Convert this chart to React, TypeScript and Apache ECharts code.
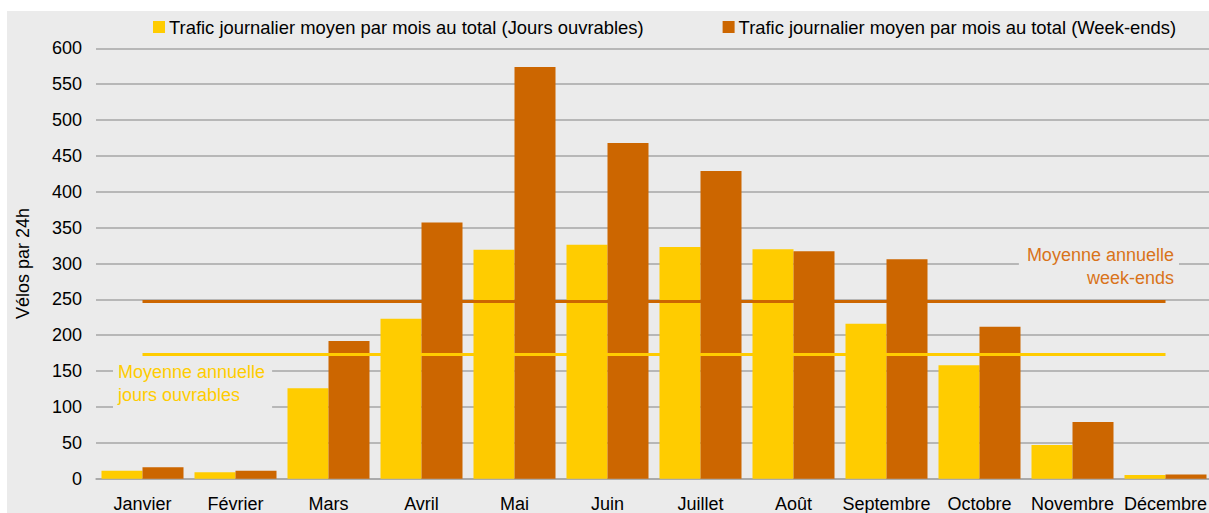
import React, { useEffect, useRef } from "react";
import * as echarts from "echarts";

const months = ["Janvier", "Février", "Mars", "Avril", "Mai", "Juin", "Juillet", "Août", "Septembre", "Octobre", "Novembre", "Décembre"];
const workdays = [11, 9, 126, 223, 319, 326, 323, 320, 216, 158, 47, 5];
const weekends = [16, 11, 192, 357, 574, 468, 429, 317, 306, 212, 79, 6];
const avgWorkdays = 174;
const avgWeekends = 248;
const seriesNames = [
  "Trafic journalier moyen par mois au total (Jours ouvrables)",
  "Trafic journalier moyen par mois au total (Week-ends)",
];
const yAxisName = "Vélos par 24h";
const noteWeekends = "Moyenne annuelle\nweek-ends";
const noteWorkdays = "Moyenne annuelle\njours ouvrables";

const FONT = "'Liberation Sans', Arial, sans-serif";
const YELLOW = "#FFCC00";
const ORANGE = "#CC6600";
const BG = "#EBEBEB";

export default function App() {
  const ref = useRef<HTMLDivElement>(null);
  useEffect(() => {
    if (!ref.current) return;
    const chart = echarts.init(ref.current, undefined, { renderer: "svg" });
    const avgLine = (value: number, color: string) => ({
      silent: true,
      symbol: "none",
      label: { show: false },
      lineStyle: { color, width: 3, type: "solid" },
      data: [[{ coord: [months[0], value] }, { coord: [months[months.length - 1], value] }]],
    });
    chart.setOption({
      animation: false,
      backgroundColor: "#ffffff",
      textStyle: { fontFamily: FONT },
      graphic: {
        elements: [
          {
            type: "rect",
            z: -10,
            silent: true,
            shape: { x: 7, y: 11, width: 1300, height: 600 },
            style: { fill: BG },
          },
          {
            type: "text",
            z: 50,
            x: 1179,
            y: 243,
            style: {
              text: noteWeekends,
              fill: "#D9731A",
              font: `18px ${FONT}`,
              align: "right",
              verticalAlign: "top",
              lineHeight: 23,
              backgroundColor: BG,
              padding: [0, 5, 0, 8],
            },
          },
          {
            type: "text",
            z: 50,
            x: 113,
            y: 360,
            style: {
              text: noteWorkdays,
              fill: YELLOW,
              font: `18px ${FONT}`,
              align: "left",
              verticalAlign: "top",
              lineHeight: 23,
              backgroundColor: BG,
              padding: [0, 7, 3, 5],
            },
          },
        ],
      },
      legend: {
        left: 153,
        top: 18,
        padding: 0,
        itemWidth: 12,
        itemHeight: 12,
        itemGap: 79,
        icon: "rect",
        textStyle: { fontSize: 18.4, color: "#000", fontFamily: FONT, padding: [0, 0, 0, -1] },
        data: seriesNames,
      },
      grid: { left: 96, right: 3, top: 48.3, bottom: 34.3, containLabel: false, outerBoundsMode: "none" },
      xAxis: {
        type: "category",
        data: months,
        axisTick: { show: false },
        axisLine: { lineStyle: { color: "#A6A6A6", width: 1.5 } },
        axisLabel: { fontSize: 18, color: "#000", margin: 16, interval: 0, fontFamily: FONT },
      },
      yAxis: {
        type: "value",
        min: 0,
        max: 600,
        interval: 50,
        name: yAxisName,
        nameLocation: "middle",
        nameGap: 64,
        nameTextStyle: { fontSize: 18, color: "#000", fontFamily: FONT },
        axisLine: { show: false },
        axisTick: { show: false },
        axisLabel: { fontSize: 18, color: "#000", margin: 14, fontFamily: FONT },
        splitLine: { lineStyle: { color: "#A6A6A6", width: 1.5 } },
      },
      series: [
        {
          name: seriesNames[0],
          type: "bar",
          data: workdays,
          barWidth: 41,
          barGap: "0%",
          itemStyle: { color: YELLOW },
        },
        {
          name: seriesNames[1],
          type: "bar",
          data: weekends,
          barWidth: 41,
          barGap: "0%",
          itemStyle: { color: ORANGE },
        },
        {
          name: "avgWorkdays",
          type: "line",
          data: [],
          z: 10,
          markLine: avgLine(avgWorkdays, YELLOW),
        },
        {
          name: "avgWeekends",
          type: "line",
          data: [],
          z: 10,
          markLine: avgLine(avgWeekends, ORANGE),
        },
      ],
    });
    return () => chart.dispose();
  }, []);
  return (
    <div style={{ position: "absolute", left: 0, top: 0, width: 1209, height: 513, overflow: "hidden" }}>
      <div ref={ref} style={{ width: 1215, height: 513 }} />
    </div>
  );
}
